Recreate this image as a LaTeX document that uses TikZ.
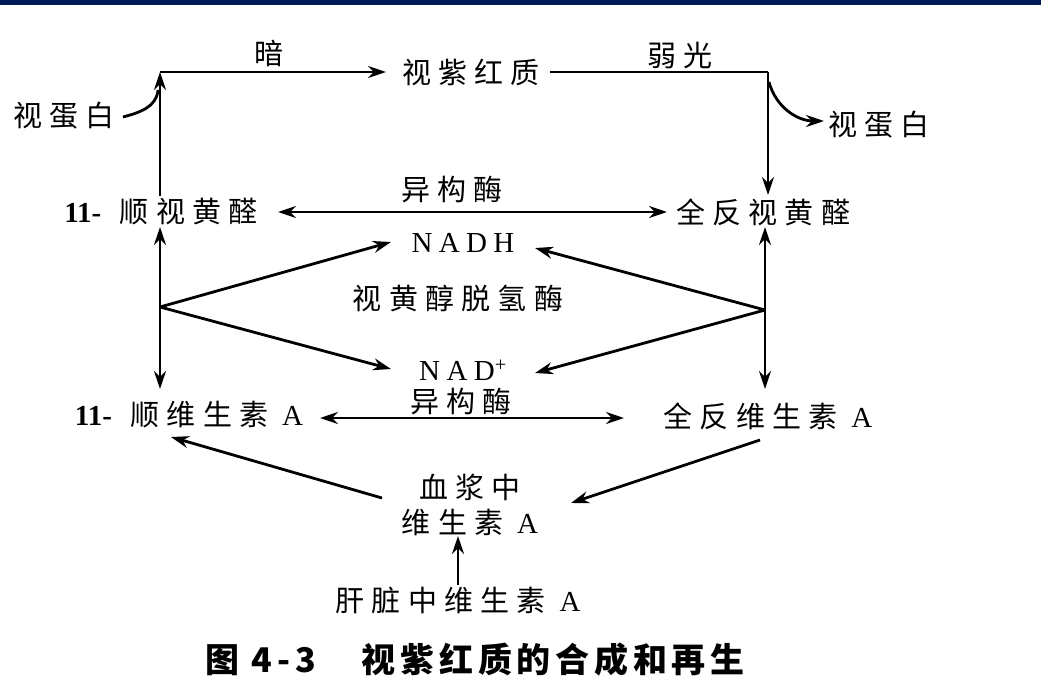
\documentclass[tikz,border=0pt]{standalone}
\usepackage{fontspec}
\usetikzlibrary{arrows.meta}
\setmainfont{Liberation Serif}
\newfontfamily\latsp{Liberation Serif}[LetterSpace=22]
\newfontfamily\cjk{Noto Sans CJK SC}[LetterSpace=25]
\newfontfamily\capfont{Noto Sans CJK SC}[LetterSpace=14]
\newcommand\lat[1]{{\rmfamily #1}}
\definecolor{navy}{HTML}{001C56}
\begin{document}
\begin{tikzpicture}[x=1pt,y=-1pt,
  lbl/.style={inner sep=0pt, font=\cjk\fontsize{29}{35}\selectfont, align=center},
  arr/.style={-{Stealth[length=18pt,width=12pt]}, line width=2.8pt},
  darr/.style={{Stealth[length=18pt,width=12pt]}-{Stealth[length=18pt,width=12pt]}, line width=2.8pt},
  ln/.style={line width=2.8pt}]
\fill[white] (0,0) rectangle (1041,696);
\useasboundingbox (0,0) rectangle (1041,696);
\fill[navy] (0,0) rectangle (1041,5);

% nodes
\node[lbl] (rhod) at (471,72) {视紫红质};
\node[lbl] (an) at (269,53) {暗};
\node[lbl] (ruo) at (680,55) {弱光};
\node[lbl] (opL) at (64,116) {视蛋白};
\node[lbl] (opR) at (879,125) {视蛋白};
\node[lbl] (cisal) at (161,212) {\lat{\textbf{11-}\,} 顺视黄醛};
\node[lbl] (transal) at (763,212) {全反视黄醛};
\node[lbl] (iso1) at (452,190) {异构酶};
\node[lbl] (nadh) at (463,243) {\latsp NADH};
\node[lbl] (rdh) at (458,298) {视黄醇脱氢酶};
\node[lbl] (nad) at (463,370) {\latsp NAD\textsuperscript{+}};
\node[lbl] (iso2) at (461,402) {异构酶};
\node[lbl] (cisA) at (189,415) {\lat{\textbf{11-}\,} 顺维生素 \lat{A}};
\node[lbl] (transA) at (768,416) {全反维生素 \lat{A}};
\node[lbl] (plasma) at (470,505) {血浆中\\维生素 \lat{A}};
\node[lbl] (liver) at (458,600) {肝脏中维生素 \lat{A}};
\node[inner sep=0pt, font=\capfont\bfseries\fontsize{34}{40}\selectfont] (cap) at (475,660) {图 4-3\hspace{46pt}视紫红质的合成和再生};

% coordinates
\coordinate (cl) at (160,72);
\coordinate (cr) at (768,72);
\coordinate (bl) at (160,307);
\coordinate (br) at (765,310);

% top cycle
\draw[arr] (160,196) -- (cl);
\draw[arr] (cl) -- (386,72);
\draw[ln] (550,72) -- (cr);
\draw[arr] (cr) -- (768,195);
\draw[ln] (opL.east) ++(8,1) to[out=15,in=-95] (158,90);
\draw[arr] (769,82) to[out=-75,in=180] (824,121);

% isomerase top
\draw[darr] (278,212) -- (667,212);

% left/right verticals
\draw[darr] (160,227) -- (160,389);
\draw[darr] (765,227) -- (765,389);

% dehydrogenase branches
\draw[arr] (bl) -- (391,242);
\draw[arr] (bl) -- (391,369);
\draw[arr] (br) -- (535,248);
\draw[arr] (br) -- (535,373);

% isomerase bottom
\draw[darr] (320,418) -- (624,418);

% plasma
\draw[arr] (382,498) -- (171,437);
\draw[arr] (760,440) -- (571,503);
\draw[arr] (458,585) -- (458,536);
\end{tikzpicture}
\end{document}
